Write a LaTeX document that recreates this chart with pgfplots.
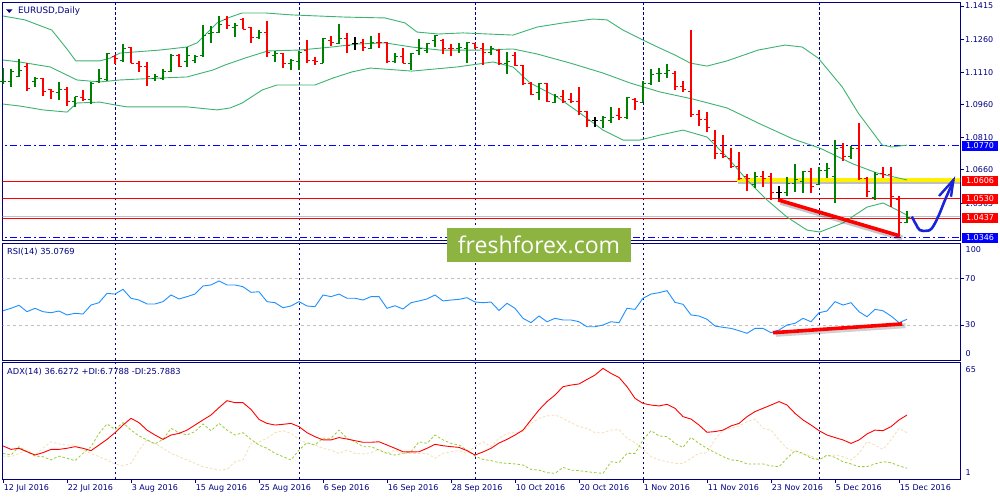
\documentclass[border=0pt]{standalone}
\usepackage{fontspec}
\setmainfont{DejaVu Sans}
\newfontfamily\wmfamily{Open Sans}
\usepackage{pgfplots}
\usepackage{pgfplotstable}
\pgfplotsset{compat=1.18}

\definecolor{navy}{RGB}{0,0,128}
\definecolor{barup}{RGB}{0,128,0}
\definecolor{bardn}{RGB}{255,0,0}
\definecolor{bband}{RGB}{60,179,113}
\definecolor{rsiblue}{RGB}{30,144,255}
\definecolor{pdi}{RGB}{154,205,50}
\definecolor{mdi}{RGB}{245,222,179}
\definecolor{lvlblue}{RGB}{0,0,255}
\definecolor{silverl}{RGB}{192,192,192}
\definecolor{wmgreen}{RGB}{141,179,65}
\definecolor{penblue}{RGB}{25,35,215}

\newcommand\mt{\fontsize{8}{9.6}\selectfont}

\pgfdeclareplotmark{otick}{%
  \pgfpathmoveto{\pgfqpoint{-3.4pt}{0pt}}%
  \pgfpathlineto{\pgfqpoint{0.3pt}{0pt}}%
  \pgfusepathqstroke}
\pgfdeclareplotmark{ctick}{%
  \pgfpathmoveto{\pgfqpoint{-0.3pt}{0pt}}%
  \pgfpathlineto{\pgfqpoint{3.4pt}{0pt}}%
  \pgfusepathqstroke}

\pgfplotsset{
  panel/.style={
    scale only axis, anchor=north west, width=957.3pt,
    xmin=-0.0375, xmax=119.625,
    axis line style={draw=navy, line width=0.8pt},
    xtick={14,37,59,80,102}, xticklabels={}, xmajorgrids,
    major x grid style={draw=navy, line width=0.8pt, dash pattern=on 2.5pt off 2.5pt},
    xtick style={draw=none}, xtick pos=left, xticklabel pos=left,
    ytick pos=right, yticklabel pos=right, tick align=outside,
    major tick length=4pt,
    ytick style={draw=navy, line width=0.6pt},
    yticklabel style={font=\mt, text=navy, inner xsep=1pt},
    clip mode=individual,
  },
  % d = 1 up bar, -1 down bar, 0 doji
  bars/.style 2 args={only marks, color=#2, mark=otick, mark options={line width=1pt},
    restrict expr to domain={\thisrow{d}}{#1},
    error bars/y dir=both, error bars/y explicit, error bars/error mark=none,
    error bars/error bar style={line width=1.15pt, color=#2}},
  closes/.style 2 args={only marks, color=#2, mark=ctick, mark options={line width=1pt},
    restrict expr to domain={\thisrow{d}}{#1}},
  level/.style={draw=#1, line width=0.9pt, dash pattern=on 7pt off 3pt on 1.5pt off 3pt},
}

% price bars, y
\pgfplotstableread{
i H L O C d
0 1.1129 1.1056 1.1065 1.1069 1
1 1.1125 1.1042 1.1065 1.1111 1
2 1.1171 1.1088 1.1092 1.1120 1
3 1.1152 1.1023 1.1134 1.1037 -1
4 1.1088 1.1042 1.1065 1.1079 1
5 1.1083 1.1000 1.1079 1.1023 -1
6 1.1032 1.0986 1.1028 1.1023 -1
7 1.1065 1.0982 1.1014 1.1028 1
8 1.1042 1.0954 1.1028 1.0977 -1
9 1.0996 1.0950 1.0977 1.0996 1
10 1.1028 1.0977 1.0991 1.0986 -1
11 1.1065 1.0963 1.0982 1.1060 1
12 1.1125 1.1060 1.1069 1.1079 1
13 1.1198 1.1069 1.1074 1.1194 1
14 1.1189 1.1148 1.1180 1.1171 -1
15 1.1240 1.1157 1.1162 1.1221 1
16 1.1226 1.1152 1.1226 1.1152 -1
17 1.1162 1.1111 1.1152 1.1134 -1
18 1.1157 1.1046 1.1134 1.1088 -1
19 1.1102 1.1069 1.1083 1.1088 1
20 1.1125 1.1074 1.1083 1.1115 1
21 1.1194 1.1111 1.1115 1.1189 1
22 1.1194 1.1134 1.1185 1.1138 -1
23 1.1226 1.1134 1.1157 1.1185 1
24 1.1189 1.1152 1.1162 1.1180 1
25 1.1327 1.1180 1.1185 1.1281 1
26 1.1323 1.1245 1.1286 1.1295 1
27 1.1369 1.1291 1.1291 1.1332 1
28 1.1369 1.1309 1.1355 1.1327 -1
29 1.1337 1.1272 1.1314 1.1323 1
30 1.1360 1.1309 1.1355 1.1309 -1
31 1.1318 1.1245 1.1314 1.1268 -1
32 1.1304 1.1263 1.1272 1.1291 1
33 1.1346 1.1180 1.1291 1.1203 -1
34 1.1208 1.1157 1.1185 1.1198 1
35 1.1198 1.1129 1.1194 1.1152 -1
36 1.1171 1.1120 1.1152 1.1162 1
37 1.1208 1.1120 1.1157 1.1203 1
38 1.1258 1.1152 1.1212 1.1162 -1
39 1.1180 1.1143 1.1162 1.1157 -1
40 1.1268 1.1152 1.1152 1.1263 1
41 1.1277 1.1231 1.1254 1.1245 -1
42 1.1332 1.1240 1.1240 1.1263 1
43 1.1291 1.1198 1.1263 1.1235 -1
44 1.1272 1.1212 1.1240 1.1240 0
45 1.1263 1.1208 1.1245 1.1226 -1
46 1.1277 1.1217 1.1221 1.1249 1
47 1.1291 1.1221 1.1249 1.1245 -1
48 1.1249 1.1152 1.1245 1.1157 -1
49 1.1198 1.1152 1.1157 1.1180 1
50 1.1221 1.1152 1.1180 1.1152 -1
51 1.1198 1.1120 1.1152 1.1198 1
52 1.1263 1.1189 1.1212 1.1217 1
53 1.1245 1.1198 1.1208 1.1240 1
54 1.1281 1.1226 1.1254 1.1277 1
55 1.1263 1.1194 1.1258 1.1217 -1
56 1.1240 1.1185 1.1221 1.1217 -1
57 1.1245 1.1198 1.1217 1.1226 1
58 1.1249 1.1152 1.1217 1.1245 1
59 1.1245 1.1217 1.1240 1.1226 -1
60 1.1245 1.1143 1.1217 1.1203 -1
61 1.1231 1.1189 1.1203 1.1217 1
62 1.1217 1.1143 1.1212 1.1152 -1
63 1.1203 1.1102 1.1152 1.1157 1
64 1.1203 1.1138 1.1185 1.1143 -1
65 1.1143 1.1051 1.1143 1.1056 -1
66 1.1065 1.1005 1.1056 1.1009 -1
67 1.1060 1.0982 1.1014 1.1056 1
68 1.1060 1.0972 1.1060 1.0977 -1
69 1.1009 1.0968 1.0972 1.1000 1
70 1.1028 1.0968 1.1000 1.0977 -1
71 1.1014 1.0968 1.0982 1.0977 -1
72 1.1042 1.0913 1.0977 1.0931 -1
73 1.0931 1.0857 1.0931 1.0885 -1
74 1.0903 1.0857 1.0885 1.0885 0
75 1.0908 1.0853 1.0885 1.0899 1
76 1.0950 1.0876 1.0885 1.0903 1
77 1.0945 1.0890 1.0908 1.0903 -1
78 1.0996 1.0894 1.0899 1.0991 1
79 1.0991 1.0936 1.0986 1.0977 -1
80 1.1069 1.0972 1.0972 1.1060 1
81 1.1125 1.1051 1.1060 1.1097 1
82 1.1129 1.1065 1.1102 1.1106 1
83 1.1148 1.1083 1.1106 1.1120 1
84 1.1115 1.1028 1.1106 1.1042 -1
85 1.1069 1.1019 1.1046 1.1028 -1
86 1.1304 1.0903 1.1023 1.0913 -1
87 1.0936 1.0862 1.0913 1.0890 -1
88 1.0926 1.0834 1.0890 1.0857 -1
89 1.0843 1.0710 1.0797 1.0737 -1
90 1.0820 1.0714 1.0737 1.0719 -1
91 1.0760 1.0668 1.0714 1.0677 -1
92 1.0742 1.0613 1.0677 1.0622 -1
93 1.0641 1.0562 1.0631 1.0618 -1
94 1.0650 1.0576 1.0590 1.0627 1
95 1.0654 1.0581 1.0627 1.0618 -1
96 1.0645 1.0521 1.0627 1.0553 -1
97 1.0585 1.0521 1.0553 1.0553 0
98 1.0627 1.0539 1.0553 1.0599 1
99 1.0687 1.0558 1.0599 1.0613 1
100 1.0654 1.0553 1.0608 1.0650 1
101 1.0668 1.0553 1.0654 1.0585 -1
102 1.0673 1.0590 1.0594 1.0659 1
103 1.0691 1.0622 1.0659 1.0668 1
104 1.0797 1.0507 1.0627 1.0760 1
105 1.0783 1.0700 1.0765 1.0719 -1
106 1.0770 1.0710 1.0719 1.0760 1
107 1.0876 1.0613 1.0760 1.0622 -1
108 1.0627 1.0535 1.0622 1.0558 -1
109 1.0650 1.0521 1.0530 1.0636 1
110 1.0673 1.0622 1.0645 1.0636 -1
111 1.0673 1.0488 1.0636 1.0535 -1
112 1.0539 1.0355 1.0525 1.0415 -1
113 1.0470 1.0419 1.0415 1.0442 1
}\ohlc

\pgfplotstableread{
i v
0 42.2
1 44.3
2 46.9
3 41.4
4 44.3
5 41.4
6 40.5
7 42.0
8 38.6
9 40.0
10 39.4
11 47.1
12 49.1
13 57.1
14 56.5
15 60.6
16 52.9
17 51.4
18 48.0
19 48.0
20 50.0
21 55.7
22 52.3
23 54.3
24 56.5
25 63.4
26 64.3
27 67.7
28 64.3
29 64.3
30 62.8
31 58.0
32 58.5
33 50.0
34 49.1
35 44.8
36 46.3
37 50.0
38 46.3
39 45.7
40 55.7
41 54.3
42 56.5
43 52.9
44 52.9
45 51.4
46 54.3
47 54.3
48 44.3
49 46.5
50 43.7
51 49.1
52 50.6
53 52.3
54 55.7
55 50.6
56 51.4
57 52.0
58 53.4
59 49.7
60 49.1
61 49.7
62 42.4
63 48.6
64 44.3
65 35.7
66 32.0
67 37.7
68 32.8
69 35.7
70 34.3
71 34.3
72 32.8
73 28.5
74 28.5
75 30.0
76 32.8
77 32.0
78 44.3
79 43.4
80 52.9
81 56.5
82 57.7
83 59.4
84 49.4
85 47.7
86 38.6
87 37.7
88 34.9
89 29.1
90 28.0
91 27.1
92 25.1
93 22.9
94 27.1
95 27.1
96 23.4
97 25.7
98 30.0
99 31.4
100 35.7
101 32.8
102 40.5
103 42.0
104 50.0
105 47.1
106 49.1
107 41.4
108 37.1
109 43.4
110 42.2
111 37.7
112 32.0
113 34.9
}\rsi

\pgfplotstableread{
i adx pdi mdi
0 19.2 15.1 13.6
1 17.3 14.2 13.3
2 17.9 18.8 15.1
3 16.0 16.0 16.9
4 14.2 13.6 14.2
5 15.5 13.3 17.9
6 17.3 11.5 21.5
7 17.3 13.6 20.3
8 17.9 12.4 19.7
9 18.8 11.1 19.7
10 17.9 15.1 16.9
11 16.6 18.8 15.1
12 19.7 26.1 13.3
13 22.8 31.3 11.5
14 26.5 28.3 9.3
15 30.7 32.0 8.2
16 34.4 27.9 9.6
17 32.0 24.7 16.9
18 27.9 22.5 22.5
19 25.2 20.3 20.6
20 22.8 22.8 17.9
21 25.2 28.9 15.1
22 26.1 26.5 13.3
23 27.9 25.2 11.5
24 30.7 27.1 9.6
25 33.5 31.3 7.8
26 36.2 27.6 6.9
27 40.3 31.6 5.9
28 44.1 27.9 6.3
29 43.0 25.2 10.5
30 43.0 26.5 11.5
31 39.3 22.8 20.6
32 33.8 19.7 21.5
33 31.6 17.9 23.4
34 30.7 15.1 26.5
35 31.1 13.3 27.6
36 31.6 11.5 26.1
37 29.8 16.9 22.8
38 26.5 21.0 20.6
39 24.3 19.7 19.7
40 22.5 23.4 17.9
41 22.5 23.4 16.9
42 23.8 27.9 15.1
43 23.0 23.4 16.9
44 22.1 21.5 15.1
45 21.2 18.8 14.8
46 21.2 18.8 15.5
47 21.5 16.9 17.3
48 19.7 15.1 15.1
49 17.9 14.2 16.9
50 16.0 15.1 15.1
51 15.9 16.0 15.1
52 16.0 21.5 15.1
53 17.9 20.6 15.1
54 20.1 25.2 12.4
55 19.3 22.5 15.1
56 18.8 20.6 16.0
57 18.4 19.7 16.6
58 16.6 16.9 15.1
59 14.2 13.6 18.8
60 15.9 11.8 21.5
61 17.9 11.1 18.8
62 20.8 10.0 23.4
63 22.8 9.6 26.1
64 25.2 9.3 26.5
65 27.9 8.7 27.1
66 33.5 6.3 31.6
67 39.0 5.9 34.4
68 43.6 4.5 35.7
69 47.2 4.1 36.2
70 51.8 7.4 34.4
71 52.7 5.9 32.0
72 53.3 5.6 29.8
73 55.8 5.0 28.9
74 58.2 4.5 26.5
75 61.9 4.1 26.5
76 59.1 10.5 27.9
77 56.9 10.0 28.3
78 51.8 15.1 23.4
79 45.4 15.1 21.0
80 42.6 22.5 17.3
81 41.7 27.6 13.3
82 41.2 24.7 11.5
83 42.1 24.3 10.5
84 39.9 20.6 9.6
85 35.3 18.4 9.6
86 34.0 23.9 12.4
87 30.7 20.6 15.1
88 26.7 17.9 15.5
89 27.1 15.5 22.8
90 27.9 13.3 27.9
91 30.2 11.5 28.9
92 31.6 11.1 30.2
93 35.3 9.3 32.5
94 38.1 9.3 34.0
95 39.9 9.3 29.0
96 41.7 8.2 27.9
97 43.6 7.8 22.5
98 41.7 12.4 17.9
99 37.1 16.6 16.0
100 33.5 15.1 14.8
101 30.7 12.4 13.6
102 27.6 11.5 11.8
103 25.2 14.2 13.6
104 23.8 12.9 14.2
105 22.5 10.5 13.3
106 20.6 9.3 11.5
107 22.5 7.8 15.1
108 25.8 7.8 21.5
109 27.9 9.3 19.7
110 27.6 10.5 17.3
111 29.8 10.0 22.5
112 33.5 8.2 28.9
113 36.2 6.9 26.5
}\adx

\begin{document}
\begin{tikzpicture}
\path[use as bounding box, fill=white] (0,0) rectangle (1000pt,-500pt);

% ---------- price panel ----------
\begin{axis}[panel, at={(2.7pt,-2.7pt)}, height=237.3pt,
  ymin=1.03363, ymax=1.14303,
  ytick={1.0505,1.0660,1.0810,1.0960,1.1110,1.1260,1.1415},
  yticklabels={1.0505,1.0660,1.0810,1.0960,1.1110,1.1260,1.1415}]
% levels
\addplot[level=lvlblue] coordinates {(-1,1.0770) (121,1.0770)};
\addplot[level=lvlblue] coordinates {(-1,1.0346) (121,1.0346)};
\addplot[draw=bardn, line width=0.9pt] coordinates {(-1,1.0606) (121,1.0606)};
\addplot[draw=bardn, line width=0.9pt] coordinates {(-1,1.0530) (121,1.0530)};
\addplot[draw=bardn, line width=0.9pt] coordinates {(-1,1.0437) (121,1.0437)};
\addplot[draw=silverl, line width=0.7pt] coordinates {(-1,1.0447) (121,1.0447)};
\addplot[draw=black, opacity=0.25, line width=4pt] coordinates {(91.9,1.0604) (121,1.0604)};
\addplot[draw=yellow, line width=4.5pt] coordinates {(91.75,1.0614) (121,1.0614)};
% bollinger bands
\addplot[draw=bband, line width=0.9pt] coordinates {
(0,1.1369) (2.75,1.1351) (6.1,1.1304) (7.1,1.1258) (8.1,1.1212) (9.1,1.1162)
(12.1,1.1162) (13.4,1.1175) (14.6,1.1198) (19.6,1.1212) (23,1.1226) (24.25,1.1245)
(25.5,1.1291) (26.75,1.1337) (28.4,1.1364) (29.9,1.1383) (32.75,1.1383) (36.1,1.1374)
(39.4,1.1369) (42.75,1.1364) (47.75,1.1360) (50.25,1.1337) (51.75,1.1295) (54.4,1.1286)
(57.5,1.1291) (63.75,1.1281) (66.75,1.1318) (70,1.1337) (73.75,1.1355) (75.5,1.1351)
(77.5,1.1304) (80,1.1258) (82.1,1.1221) (84,1.1189) (85.9,1.1152) (88,1.1138)
(90.5,1.1162) (94.4,1.1212) (97.75,1.1235) (99.9,1.1226) (101.9,1.1175) (104.9,1.1042)
(106.9,1.0922) (109.9,1.0774) (111.1,1.0765) (113,1.0774)};
\addplot[draw=bband, line width=0.9pt] coordinates {
(0,1.1166) (2.1,1.1157) (5.9,1.1134) (9.25,1.1074) (12.1,1.1065) (14.6,1.1074)
(19.6,1.1083) (23,1.1088) (26.25,1.1120) (27.75,1.1143) (30.25,1.1175) (33.1,1.1208)
(37.1,1.1212) (41.1,1.1226) (44.4,1.1240) (47.75,1.1245) (51.1,1.1226) (54.6,1.1212)
(59.6,1.1212) (63.75,1.1217) (66.75,1.1194) (70.9,1.1152) (75,1.1106) (78.4,1.1060)
(82.1,1.1019) (86.25,1.0986) (90.5,1.0945) (94.6,1.0872) (98.75,1.0802) (102.1,1.0760)
(106.25,1.0687) (109.25,1.0645) (113,1.0613)};
\addplot[draw=bband, line width=0.9pt] coordinates {
(0,1.0963) (2.1,1.0954) (5,1.0936) (8,1.0926) (9.25,1.0968) (12.1,1.0972) (14,1.0959)
(15.5,1.0950) (23,1.0950) (26.75,1.0936) (28.4,1.0945) (29.9,1.0968) (32.4,1.1028)
(34.25,1.1051) (39,1.1051) (41.25,1.1083) (43.6,1.1111) (45.9,1.1129) (49.25,1.1120)
(51.1,1.1115) (56.75,1.1134) (61.25,1.1157) (63.75,1.1134) (65.9,1.1060) (69.25,1.0996)
(72.1,1.0922) (75,1.0843) (77.5,1.0797) (79.6,1.0797) (82.1,1.0820) (85,1.0843)
(88,1.0811) (90.5,1.0719) (93,1.0613) (95.5,1.0521) (98,1.0442) (100.5,1.0382)
(102.1,1.0373) (105,1.0415) (108,1.0488) (110,1.0507) (111.75,1.0475) (113,1.0451)};
% OHLC bars
\addplot[bars={0.5:1.5}{barup}]
  table[x=i, y=O, y error plus expr=\thisrow{H}-\thisrow{O}, y error minus expr=\thisrow{O}-\thisrow{L}] {\ohlc};
\addplot[closes={0.5:1.5}{barup}] table[x=i, y=C] {\ohlc};
\addplot[bars={-1.5:-0.5}{bardn}]
  table[x=i, y=O, y error plus expr=\thisrow{H}-\thisrow{O}, y error minus expr=\thisrow{O}-\thisrow{L}] {\ohlc};
\addplot[closes={-1.5:-0.5}{bardn}] table[x=i, y=C] {\ohlc};
\addplot[bars={-0.5:0.5}{black}]
  table[x=i, y=O, y error plus expr=\thisrow{H}-\thisrow{O}, y error minus expr=\thisrow{O}-\thisrow{L}] {\ohlc};
\addplot[closes={-0.5:0.5}{black}] table[x=i, y=C] {\ohlc};
% drawn trend line and arrow
\addplot[draw=black, opacity=0.22, line width=5.5pt] coordinates {(97.2,1.0511) (112.4,1.0345)};
\addplot[draw=bardn, line width=3.6pt] coordinates {(96.9,1.0521) (112.1,1.0355)};
\addplot[draw=penblue, line width=2.6pt, smooth, tension=0.6] coordinates {
(113.6,1.0444) (114.1,1.0410) (114.6,1.0382) (115.5,1.0379) (116.1,1.0390)
(116.9,1.0444) (117.75,1.0521) (118.4,1.0575) (118.8,1.0613)};
\addplot[draw=penblue, line width=2.4pt] coordinates {(117.0,1.0539) (118.8,1.0613) (118.5,1.0536)};
\end{axis}

% ---------- RSI panel ----------
\begin{axis}[panel, at={(2.7pt,-243.3pt)}, height=116.7pt,
  ymin=0, ymax=100, ytick={30,70}, yticklabels={30,70}]
\addplot[draw=silverl, line width=0.8pt, dash pattern=on 3pt off 3pt] coordinates {(-1,30) (121,30)};
\addplot[draw=silverl, line width=0.8pt, dash pattern=on 3pt off 3pt] coordinates {(-1,70) (121,70)};
\addplot[draw=rsiblue, line width=0.9pt] table[x=i, y=v] {\rsi};
\addplot[draw=black, opacity=0.18, line width=5pt] coordinates {(96.6,22.0) (112.8,29.4)};
\addplot[draw=bardn, line width=3.6pt] coordinates {(96.25,23.4) (112.4,30.9)};
\end{axis}

% ---------- ADX panel ----------
\begin{axis}[panel, at={(2.7pt,-362.7pt)}, height=116.3pt,
  ymin=1, ymax=65, ytick=\empty,
  xtick={0,8,...,112}, xmajorgrids=false,
  xtick style={draw=navy, line width=0.6pt},
  xticklabels={12 Jul 2016,22 Jul 2016,3 Aug 2016,15 Aug 2016,25 Aug 2016,6 Sep 2016,16 Sep 2016,28 Sep 2016,10 Oct 2016,20 Oct 2016,1 Nov 2016,11 Nov 2016,23 Nov 2016,5 Dec 2016,15 Dec 2016},
  xticklabel style={anchor=north west, font=\mt, text=navy, inner xsep=0.6pt, inner ysep=1.5pt},
  extra x ticks={14,37,59,80,102}, extra x tick labels={},
  extra x tick style={xmajorgrids=true, major tick length=0pt}]
\addplot[draw=mdi, line width=0.8pt, dash pattern=on 2.5pt off 2pt] table[x=i, y=mdi] {\adx};
\addplot[draw=pdi, line width=0.8pt, dash pattern=on 2.5pt off 2pt] table[x=i, y=pdi] {\adx};
\addplot[draw=bardn, line width=0.9pt] table[x=i, y=adx] {\adx};
\end{axis}

% ---------- texts and price boxes ----------
\fill[navy] (6pt,-9.3pt) -- (12.6pt,-9.3pt) -- (9.3pt,-12.9pt) -- cycle;
\node[anchor=west, inner sep=0pt, text=navy, font=\fontsize{8.8}{10}\selectfont] at (17.8pt,-11pt) {EURUSD,Daily};
\node[anchor=west, inner sep=0pt, text=navy, font=\fontsize{8.3}{10}\selectfont] at (7pt,-251.5pt) {RSI(14) 35.0769};
\node[anchor=west, inner sep=0pt, text=navy, font=\fontsize{8.3}{10}\selectfont] at (7pt,-371.5pt) {ADX(14) 36.6272 +DI:6.7788 -DI:25.7883};
\node[anchor=west, inner sep=0pt, text=navy, font=\mt] at (965.5pt,-249.3pt) {100};
\node[anchor=west, inner sep=0pt, text=navy, font=\mt] at (965.5pt,-353.3pt) {0};
\node[anchor=west, inner sep=0pt, text=navy, font=\mt] at (965.5pt,-369.3pt) {65};
\node[anchor=west, inner sep=0pt, text=navy, font=\mt] at (965.5pt,-472.7pt) {1};

\tikzset{pbox/.style={anchor=west, inner sep=0pt, minimum width=36.3pt, minimum height=10pt, text=white, font=\mt}}
\node[pbox, fill=lvlblue] at (961.7pt,-145.7pt) {1.0770};
\node[pbox, fill=bardn] at (961.7pt,-181pt) {1.0606};
\node[pbox, fill=bardn] at (961.7pt,-198.7pt) {1.0530};
\node[pbox, fill=bardn] at (961.7pt,-217.7pt) {1.0437};
\node[pbox, fill=lvlblue] at (961.7pt,-238pt) {1.0346};

\node[fill=wmgreen, text=white, inner sep=0pt, minimum width=183.4pt, minimum height=33.4pt,
  font=\wmfamily\fontsize{23}{23}\selectfont] at (539pt,-245pt) {freshforex.com};
\end{tikzpicture}
\end{document}
